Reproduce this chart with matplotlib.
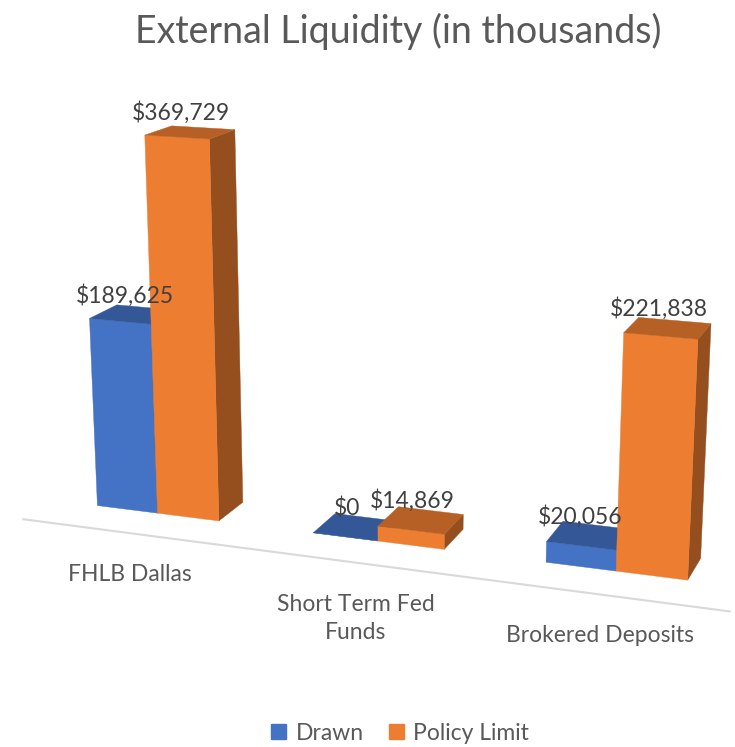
import numpy as np
import matplotlib.pyplot as plt
from matplotlib.patches import Polygon, Patch

plt.rcParams['font.family'] = ['Lato', 'DejaVu Sans']

categories = ['FHLB Dallas', 'Short Term Fed\nFunds', 'Brokered Deposits']
drawn = [189625, 0, 20056]
policy_limit = [369729, 14869, 221838]
series_names = ['Drawn', 'Policy Limit']
series_colors = ['#4472C4', '#ED7D31']

W, H = 735, 747

# 3d layout, one category = 1 world unit
bar_w = 0.286
bar_d = 0.25
bar_y0 = 0.26
z_scale = 1.62 / 369729

# perspective camera
yaw = np.radians(19.7)
pitch = np.radians(16.1)
focal = 2060.0
cx, cy = 393.0, 381.0
hdir = np.array([-np.sin(yaw), np.cos(yaw), 0.0])
ez = np.array([0.0, 0.0, 1.0])
fwd = np.cos(pitch) * hdir - np.sin(pitch) * ez
right = np.array([np.cos(yaw), np.sin(yaw), 0.0])
down = -(np.sin(pitch) * hdir + np.cos(pitch) * ez)
anchor = np.array([1.5, bar_y0, 0.0])
anchor_px = (378.0, 541.0)
anchor_dist = 8.45
cam = anchor - anchor_dist * (fwd + (anchor_px[0] - cx) / focal * right
                              + (anchor_px[1] - cy) / focal * down)


def project(p):
    d = np.asarray(p, dtype=float) - cam
    z = d @ fwd
    return cx + focal * (d @ right) / z, cy + focal * (d @ down) / z


def shade(c, k):
    c = np.array(plt.matplotlib.colors.to_rgb(c))
    return tuple(c * k)


fig = plt.figure(figsize=(W / 100, H / 100), dpi=100)
ax = fig.add_axes([0, 0, 1, 1])
ax.set_xlim(0, W)
ax.set_ylim(H, 0)
ax.axis('off')

# floor front edge
p0 = project((0, 0, 0))
p1 = project((len(categories), 0, 0))
ax.plot([p0[0], p1[0]], [p0[1], p1[1]], color='#D9D9D9', lw=1.5, zorder=1)

label_color = '#595959'
for i, cat in enumerate(categories):
    c = i + 0.5
    for s, vals in enumerate([drawn, policy_limit]):
        x0 = c - bar_w if s == 0 else c
        x1 = x0 + bar_w
        y0, y1 = bar_y0, bar_y0 + bar_d
        z = vals[i] * z_scale
        col = series_colors[s]
        faces = [
            ([(x1, y0, 0), (x1, y1, 0), (x1, y1, z), (x1, y0, z)], shade(col, 0.63)),
            ([(x0, y0, 0), (x1, y0, 0), (x1, y0, z), (x0, y0, z)], col),
            ([(x0, y0, z), (x1, y0, z), (x1, y1, z), (x0, y1, z)], shade(col, 0.77)),
        ]
        for pts, fc in faces:
            xy = [project(p) for p in pts]
            ax.add_patch(Polygon(xy, closed=True, facecolor=fc, edgecolor=fc,
                                 lw=0.3, zorder=2))
        tx, ty = project(((x0 + x1) / 2, (y0 + y1) / 2, z))
        ax.annotate('${:,}'.format(vals[i]), xy=(tx, ty), xytext=(-9, 12),
                    textcoords='offset pixels', ha='center', va='baseline',
                    fontsize=16.5, color='#404040', zorder=5)
    fx, fy = project((c, 0, 0))
    ax.annotate(cat, xy=(fx, fy), xytext=(0, -31), textcoords='offset pixels',
                ha='center', va='top', fontsize=16.5, color=label_color,
                linespacing=1.45)

fig.text(398 / W, 1 - 43 / H, 'External Liquidity (in thousands)', ha='center',
         va='baseline', fontsize=27, color=label_color)

handles = [Patch(facecolor=c, edgecolor=c) for c in series_colors]
fig.legend(handles, series_names, loc='center', bbox_to_anchor=(400 / W, 1 - 733 / H),
           ncol=2, frameon=False, fontsize=16.5, handlelength=0.65, handleheight=0.65,
           handletextpad=0.4, columnspacing=1.1, labelcolor=label_color)

fig.savefig('out.png', dpi=100)
